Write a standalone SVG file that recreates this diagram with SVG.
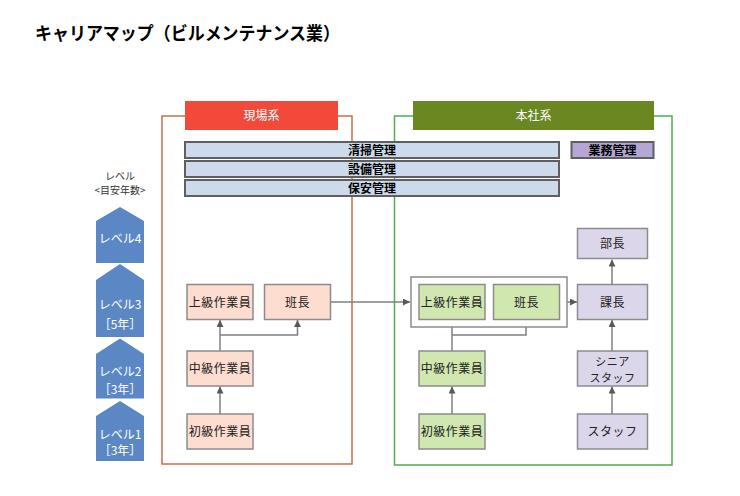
<svg xmlns="http://www.w3.org/2000/svg" width="740" height="496" viewBox="0 0 740 496">
<defs>
<style>
text{font-family:"Noto Sans CJK JP","Noto Sans",sans-serif;}
.title{font-size:18px;font-weight:bold;fill:#000;}
.hdr{font-size:12px;fill:#fff;text-anchor:middle;}
.bar{fill:#CCDAEB;stroke:#5f5f5f;stroke-width:2;}
.bart{font-size:12px;font-weight:bold;fill:#000;text-anchor:middle;}
.lv{fill:#5B87C4;}
.lvt{font-size:12px;fill:#fff;text-anchor:middle;}
.nt{font-size:12px;fill:#222;text-anchor:middle;letter-spacing:0.5px;}
.nt2{font-size:11px;fill:#222;text-anchor:middle;letter-spacing:0.5px;}
.sal{fill:#FCDDD0;stroke:#8c8c8c;stroke-width:1.5;}
.grn{fill:#D0E8B0;stroke:#8c8c8c;stroke-width:1.5;}
.pur{fill:#DCD6EA;stroke:#8c8c8c;stroke-width:1.5;}
.conn{fill:none;stroke:#7f7f7f;stroke-width:1.5;}
.small{font-size:10px;fill:#333;text-anchor:middle;}
</style>
<marker id="ah" viewBox="0 0 10 10" refX="10" refY="5" markerWidth="7" markerHeight="7" markerUnits="userSpaceOnUse" orient="auto">
<path d="M0,0 L10,5 L0,10 z" fill="#595959"/>
</marker>
</defs>
<rect width="740" height="496" fill="#fff"/>
<text class="title" x="35" y="40" textLength="305" lengthAdjust="spacingAndGlyphs">キャリアマップ（ビルメンテナンス業）</text>

<g id="genba-container">
<path d="M185,116 H162 V464 H352 V116 H338" fill="none" stroke="#C8704A" stroke-width="1.5"/>
<rect x="185" y="101" width="153" height="29" fill="#F24A3A"/>
<text class="hdr" x="261.5" y="120">現場系</text>
</g>
<g id="honsha-container">
<path d="M413,116 H394.5 V465 H672 V116 H654" fill="none" stroke="#4CB04C" stroke-width="1.5"/>
<rect x="413" y="101" width="241" height="29" fill="#6A8722"/>
<text class="hdr" x="533.5" y="120">本社系</text>
</g>

<g id="bar-seisou"><rect class="bar" x="185" y="142" width="374" height="16"/><text class="bart" x="372" y="155">清掃管理</text></g>
<g id="bar-setsubi"><rect class="bar" x="185" y="161" width="374" height="16"/><text class="bart" x="372" y="174">設備管理</text></g>
<g id="bar-hoan"><rect class="bar" x="185" y="180" width="374" height="16"/><text class="bart" x="372" y="193">保安管理</text></g>
<g id="bar-gyomu"><rect x="571.5" y="142" width="82" height="16" fill="#B4A7D6" stroke="#5f5f5f" stroke-width="2"/><text class="bart" x="612.5" y="155">業務管理</text></g>

<g id="level-header">
<text class="small" x="120" y="180">レベル</text>
<text class="small" x="120" y="194">&lt;目安年数&gt;</text>
</g>
<g id="level4"><path class="lv" d="M96,221 L120,207 L144,221 V263 H96 z"/><text class="lvt" x="120" y="243">レベル4</text></g>
<g id="level3"><path class="lv" d="M96,280 L120,264 L144,280 V337 H96 z"/><text class="lvt" x="120" y="309">レベル3</text><text class="lvt" x="120" y="329">［5年］</text></g>
<g id="level2"><path class="lv" d="M96,354 L120,338.5 L144,354 V398.5 H96 z"/><text class="lvt" x="120" y="376">レベル2</text><text class="lvt" x="120" y="394">［3年］</text></g>
<g id="level1"><path class="lv" d="M96,416 L120,401 L144,416 V461 H96 z"/><text class="lvt" x="120" y="439">レベル1</text><text class="lvt" x="120" y="455">［3年］</text></g>

<g id="connectors">
<path class="conn" d="M220,414 V386.5" marker-end="url(#ah)"/>
<path class="conn" d="M220,351 V320" marker-end="url(#ah)"/>
<path class="conn" d="M220,335 H297.5 V320" marker-end="url(#ah)"/>
<path class="conn" d="M330.5,302 H410" marker-end="url(#ah)"/>
<path class="conn" d="M452,414 V386.5" marker-end="url(#ah)"/>
<path class="conn" d="M452,351 V320" marker-end="url(#ah)"/>
<path class="conn" d="M452,335 H526 V320" marker-end="url(#ah)"/>
<path class="conn" d="M567,302 H577" marker-end="url(#ah)"/>
<path class="conn" d="M612,414 V386.5" marker-end="url(#ah)"/>
<path class="conn" d="M612,351 V320" marker-end="url(#ah)"/>
<path class="conn" d="M612,284 V259.5" marker-end="url(#ah)"/>
</g>

<g id="genba-joukyu"><rect class="sal" x="187" y="284.5" width="66" height="35"/><text class="nt" x="220" y="306.5">上級作業員</text></g>
<g id="genba-hanchou"><rect class="sal" x="264.5" y="284.5" width="66" height="35"/><text class="nt" x="297.5" y="306.5">班長</text></g>
<g id="genba-chuukyu"><rect class="sal" x="187" y="351" width="66" height="35"/><text class="nt" x="220" y="373">中級作業員</text></g>
<g id="genba-shokyu"><rect class="sal" x="187" y="414" width="66" height="35"/><text class="nt" x="220" y="436">初級作業員</text></g>

<g id="honsha-group"><rect x="411" y="277" width="156" height="50" fill="#fff" stroke="#8c8c8c" stroke-width="1.5"/></g>
<g id="honsha-joukyu"><rect class="grn" x="419" y="284.5" width="66" height="35"/><text class="nt" x="452" y="306.5">上級作業員</text></g>
<g id="honsha-hanchou"><rect class="grn" x="493.5" y="284.5" width="66" height="35"/><text class="nt" x="526.5" y="306.5">班長</text></g>
<g id="honsha-chuukyu"><rect class="grn" x="419" y="351" width="66" height="35"/><text class="nt" x="452" y="373">中級作業員</text></g>
<g id="honsha-shokyu"><rect class="grn" x="419" y="414" width="66" height="35"/><text class="nt" x="452" y="436">初級作業員</text></g>

<g id="buchou"><rect class="pur" x="577.5" y="228.5" width="70" height="30"/><text class="nt" x="612.5" y="248">部長</text></g>
<g id="kachou"><rect class="pur" x="577.5" y="284.5" width="70" height="35"/><text class="nt" x="612.5" y="306.5">課長</text></g>
<g id="senior-staff"><rect class="pur" x="577.5" y="351" width="70" height="35"/><text class="nt2" x="612.5" y="366">シニア</text><text class="nt2" x="612.5" y="381.5">スタッフ</text></g>
<g id="staff"><rect class="pur" x="577.5" y="414" width="70" height="35"/><text class="nt" x="612.5" y="436">スタッフ</text></g>
</svg>
